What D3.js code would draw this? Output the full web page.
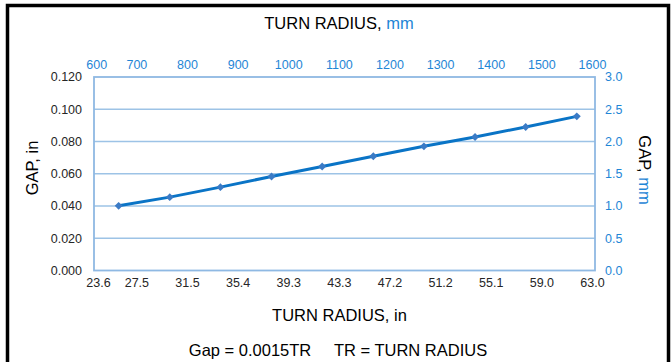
<!DOCTYPE html>
<html><head><meta charset="utf-8">
<script src="https://cdn.jsdelivr.net/npm/d3@7"></script>
<style>
html,body{margin:0;padding:0;background:#fff;}
svg{display:block;font-family:"Liberation Sans",Arial,sans-serif;}
</style></head>
<body><svg id="c" width="671" height="362"></svg>
<script>
// ---- data ----
const turnRadiusMm = [664, 765, 865, 966, 1066, 1167, 1267, 1368, 1468, 1569];
const gapIn = [0.0401, 0.0455, 0.0517, 0.0583, 0.0645, 0.0708, 0.0770, 0.0828, 0.0890, 0.0956];
const topTicksMm = [600, 700, 800, 900, 1000, 1100, 1200, 1300, 1400, 1500, 1600];
const bottomTickLabelsIn = ["23.6", "27.5", "31.5", "35.4", "39.3", "43.3", "47.2", "51.2", "55.1", "59.0", "63.0"];
const leftTicks = [0, 0.02, 0.04, 0.06, 0.08, 0.10, 0.12];
const rightTicks = [0, 0.5, 1.0, 1.5, 2.0, 2.5, 3.0];

const svg = d3.select("#c");
const blue = "#1f86d6", gridC = "#9dc3e6", frameC = "#8fb9e3";
const L = 94, R = 595, T = 77, B = 270.5;

const x = d3.scaleLinear().domain([600, 1600]).range([86.25, 592.5]);
const y = d3.scaleLinear().domain([0, 0.12]).range([B, T]);
const y2 = d3.scaleLinear().domain([0, 3.0]).range([B, T]);

// outer border
svg.append("rect").attr("x", 7.5).attr("y", 5.5).attr("width", 661).attr("height", 370)
  .attr("fill", "none").attr("stroke", "#000").attr("stroke-width", 3.5);

// gridlines
svg.append("g").selectAll("line").data(leftTicks.filter(d => d > 0 && d < 0.12)).join("line")
  .attr("x1", L).attr("x2", R).attr("y1", d => y(d)).attr("y2", d => y(d))
  .attr("stroke", gridC).attr("stroke-width", 1.5);
// frame
svg.append("rect").attr("x", L).attr("y", T).attr("width", R - L).attr("height", B - T)
  .attr("fill", "none").attr("stroke", frameC).attr("stroke-width", 1.8);

// left axis labels
svg.append("g").selectAll("text").data(leftTicks).join("text")
  .attr("x", 82).attr("y", d => y(d)).attr("dy", "0.35em").attr("text-anchor", "end")
  .attr("font-size", 12.5).attr("fill", "#262626").text(d => d3.format(".3f")(d));
// right axis labels
svg.append("g").selectAll("text").data(rightTicks).join("text")
  .attr("x", 605).attr("y", d => y2(d)).attr("dy", "0.35em").attr("text-anchor", "start")
  .attr("font-size", 12.5).attr("fill", blue).text(d => d3.format(".1f")(d));
// top axis labels
svg.append("g").selectAll("text").data(topTicksMm).join("text")
  .attr("x", d => x(d)).attr("y", 65).attr("dy", "0.35em")
  .attr("text-anchor", (d, i) => i === 0 ? "start" : "middle")
  .attr("font-size", 12.5).attr("fill", blue).text(d => d);
// bottom axis labels
svg.append("g").selectAll("text").data(topTicksMm).join("text")
  .attr("x", d => x(d)).attr("y", 282.5).attr("dy", "0.35em")
  .attr("text-anchor", (d, i) => i === 0 ? "start" : "middle")
  .attr("font-size", 12.5).attr("fill", "#262626").text((d, i) => bottomTickLabelsIn[i]);

// line
const line = d3.line().x((d, i) => x(turnRadiusMm[i])).y(d => y(d));
svg.append("path").datum(gapIn).attr("d", line).attr("fill", "none")
  .attr("stroke", "#0a74c6").attr("stroke-width", 3).attr("stroke-linejoin", "round");
// markers
const diamond = d3.symbol().type(d3.symbolDiamond2).size(40);
svg.append("g").selectAll("path").data(gapIn).join("path")
  .attr("transform", (d, i) => `translate(${x(turnRadiusMm[i])},${y(d)})`)
  .attr("d", diamond).attr("fill", "#3b7bc6");

// titles
const t1 = svg.append("text").attr("x", 339).attr("y", 29).attr("text-anchor", "middle")
  .attr("font-size", 16.5).attr("fill", "#000");
t1.append("tspan").text("TURN RADIUS, ");
t1.append("tspan").attr("fill", blue).text("mm");

svg.append("text").attr("x", 339.5).attr("y", 321).attr("text-anchor", "middle")
  .attr("font-size", 16.5).attr("fill", "#000").text("TURN RADIUS, in");

svg.append("text").attr("x", 338).attr("y", 356).attr("text-anchor", "middle")
  .attr("font-size", 16.5).attr("fill", "#000").attr("xml:space", "preserve")
  .text("Gap = 0.0015TR     TR = TURN RADIUS");

svg.append("text").attr("transform", "translate(38,168) rotate(-90)").attr("text-anchor", "middle")
  .attr("font-size", 16.5).attr("fill", "#000").text("GAP, in");

const t2 = svg.append("text").attr("transform", "translate(639,170) rotate(90)").attr("text-anchor", "middle")
  .attr("font-size", 16.5).attr("fill", "#000");
t2.append("tspan").text("GAP, ");
t2.append("tspan").attr("fill", blue).text("mm");
</script></body></html>
